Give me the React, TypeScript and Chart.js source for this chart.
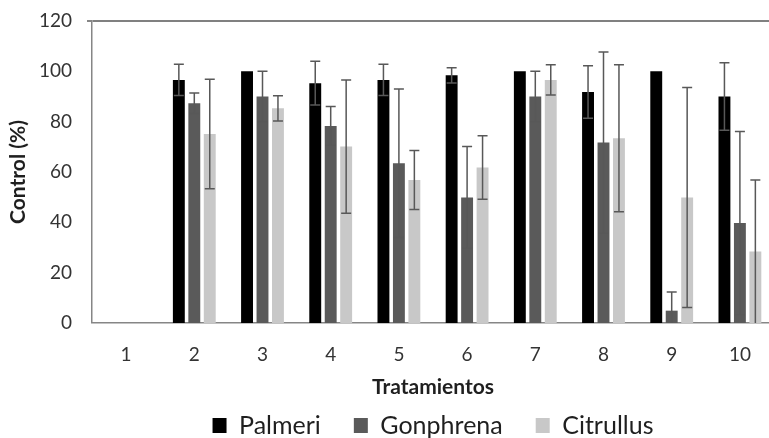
import React, { useEffect, useRef } from "react";
import { Chart, registerables } from "chart.js";

Chart.register(...registerables);

const categories = ["1", "2", "3", "4", "5", "6", "7", "8", "9", "10"];
const palmeri = [0, 96.6, 100, 95.3, 96.6, 98.4, 100, 91.8, 100, 90];
const palmeriErr = [0, 6.2, 0, 8.7, 6.2, 3, 0, 10.4, 0, 13.4];
const gonphrena = [0, 87.3, 90, 78.3, 63.5, 49.9, 90, 71.7, 4.9, 39.7];
const gonphrenaErr = [0, 4.1, 10, 7.7, 29.5, 20.2, 10, 36, 7.4, 36.4];
const citrullus = [0, 75.1, 85.3, 70.1, 56.8, 61.8, 96.6, 73.4, 49.9, 28.4];
const citrullusErr = [0, 21.8, 5, 26.5, 11.7, 12.6, 6, 29.2, 43.7, 28.4];
const yTicks = [0, 20, 40, 60, 80, 100, 120];

const errors = [palmeriErr, gonphrenaErr, citrullusErr];

const errorBarPlugin = {
  id: "errorBars",
  afterDatasetsDraw(chart: any) {
    const ctx = chart.ctx;
    const yScale = chart.scales.y;
    const area = chart.chartArea;
    ctx.save();
    ctx.beginPath();
    ctx.rect(area.left, area.top - 2, area.right - area.left, area.bottom - area.top + 2);
    ctx.clip();
    ctx.strokeStyle = "#585858";
    ctx.lineWidth = 1.5;
    chart.data.datasets.forEach((ds: any, di: number) => {
      const meta = chart.getDatasetMeta(di);
      meta.data.forEach((bar: any, i: number) => {
        const err = errors[di][i];
        if (!err) return;
        const v = ds.data[i];
        const x = bar.x;
        const yTop = yScale.getPixelForValue(v + err);
        const yBot = yScale.getPixelForValue(Math.max(0, v - err));
        const cap = 5;
        ctx.beginPath();
        ctx.moveTo(x, yTop);
        ctx.lineTo(x, yBot);
        ctx.moveTo(x - cap, yTop);
        ctx.lineTo(x + cap, yTop);
        if (v - err > 0) {
          ctx.moveTo(x - cap, yBot);
          ctx.lineTo(x + cap, yBot);
        }
        ctx.stroke();
      });
    });
    ctx.restore();
  },
};

export default function App() {
  const ref = useRef<HTMLCanvasElement | null>(null);

  useEffect(() => {
    if (!ref.current) return;
    const chart = new Chart(ref.current, {
      type: "bar",
      data: {
        labels: categories,
        datasets: [
          { label: "Palmeri", data: palmeri, backgroundColor: "#000000" },
          { label: "Gonphrena", data: gonphrena, backgroundColor: "#5a5a5a" },
          { label: "Citrullus", data: citrullus, backgroundColor: "#c8c8c8" },
        ],
      },
      options: {
        responsive: false,
        animation: false,
        devicePixelRatio: 1,
        layout: { padding: { top: 21, right: 26, left: 0, bottom: 0 } },
        datasets: {
          bar: { categoryPercentage: 0.68, barPercentage: 0.77 },
        },
        plugins: {
          tooltip: { enabled: false },
          legend: {
            position: "bottom",
            fullSize: false,
            labels: {
              font: { family: "Lato", size: 25 },
              color: "#1f1f1f",
              boxWidth: 14,
              boxHeight: 15,
              padding: 33,
            },
          },
        },
        scales: {
          x: {
            grid: { display: false, drawTicks: false },
            border: { display: true, color: "#868686", width: 1.5 },
            ticks: {
              font: { family: "Lato", size: 19 },
              color: "#333333",
              padding: 20,
            },
            title: {
              display: true,
              text: "Tratamientos",
              font: { family: "Lato", size: 21, weight: "bold" },
              color: "#1f1f1f",
              padding: { top: 0, bottom: -20 },
            },
            afterFit(scale: any) {
              scale.height = 57;
            },
          },
          y: {
            min: 0,
            max: 120,
            afterBuildTicks(scale: any) {
              scale.ticks = yTicks.map((v) => ({ value: v }));
            },
            grid: {
              drawOnChartArea: true,
              drawTicks: true,
              tickLength: 5,
              tickColor: "#868686",
              color: (c: any) => (c.tick && c.tick.value === 120 ? "#808080" : "rgba(0,0,0,0)"),
              lineWidth: (c: any) => (c.tick && c.tick.value === 120 ? 2 : 0),
            },
            border: { display: true, color: "#868686", width: 1.5 },
            ticks: {
              font: { family: "Lato", size: 19 },
              color: "#333333",
              padding: 15,
            },
            title: {
              display: true,
              text: "Control (%)",
              font: { family: "Lato", size: 21, weight: "bold" },
              color: "#1f1f1f",
              padding: { top: 6, bottom: 0 },
            },
            afterFit(scale: any) {
              scale.width = 92;
              scale.paddingTop = 0;
              scale.paddingBottom = 0;
            },
          },
        },
      },
      plugins: [errorBarPlugin],
    });
    return () => chart.destroy();
  }, []);

  return (
    <div
      style={{
        position: "fixed",
        left: 0,
        top: 0,
        width: 769,
        height: 438,
        overflow: "hidden",
        background: "#ffffff",
      }}
    >
      <canvas ref={ref} width={800} height={448} style={{ width: 800, height: 448, display: "block" }} />
    </div>
  );
}
